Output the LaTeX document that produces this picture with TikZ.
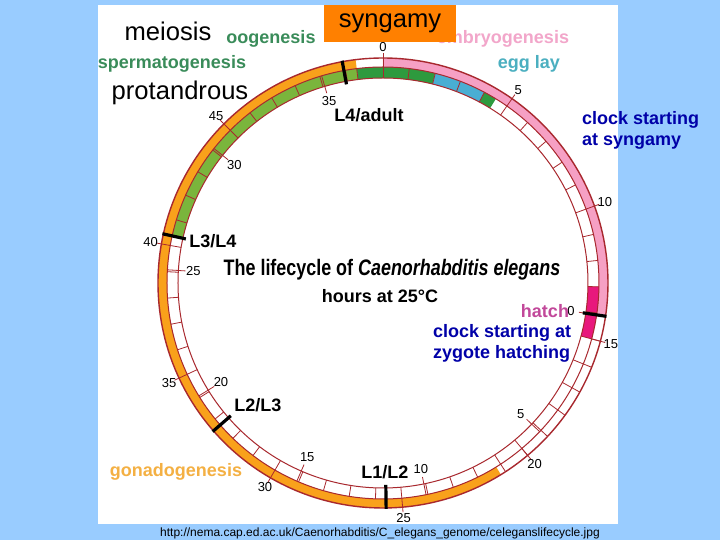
\documentclass[tikz,border=0pt]{standalone}
\usepackage{fontspec}
\setmainfont{Liberation Sans}
\newfontfamily\narrowsans{Liberation Sans}[FakeStretch=0.8]
\usetikzlibrary{calc}
\definecolor{slideblue}{HTML}{99CCFF}
\definecolor{ringred}{HTML}{A8282E}
\definecolor{gonadorange}{HTML}{F9A11B}
\definecolor{embryopink}{HTML}{F6A0C4}
\definecolor{hatchpink}{HTML}{E8187C}
\definecolor{oogreen}{HTML}{2E9A3E}
\definecolor{spermgreen}{HTML}{7AB53C}
\definecolor{eggblue}{HTML}{49AED3}
\definecolor{syngorange}{HTML}{FF8000}
\definecolor{clockblue}{HTML}{0000A8}
\definecolor{labelgreen}{HTML}{3A8C5A}
\definecolor{labelpink}{HTML}{F2A6CA}
\definecolor{labelteal}{HTML}{4BAFC0}
\definecolor{labelmagenta}{HTML}{C2489A}
\definecolor{labelorange}{HTML}{F4B043}

% piece of a ring: colour, inner radius, outer radius, from hour, to hour
\newcommand{\clockband}[5]{%
  \fill[#1] ({90-7*(#4)}:#3) arc[start angle={90-7*(#4)}, end angle={90-7*(#5)}, radius=#3]
    -- ({90-7*(#5)}:#2) arc[start angle={90-7*(#5)}, end angle={90-7*(#4)}, radius=#2] -- cycle;}

\begin{document}
\begin{tikzpicture}[x=0.5pt, y=0.5pt,
    hourtick/.style={ringred, line width=0.4pt},
    stagetick/.style={black, line width=1.6pt},
    clocknum/.style={font=\fontsize{6.5}{7}\selectfont},
    stagename/.style={font=\fontsize{9}{10}\selectfont\bfseries},
    bigword/.style={font=\fontsize{12.8}{14}\selectfont},
    clocknote/.style={clockblue, align=left, font=\fontsize{9}{10.5}\selectfont\bfseries}]
    % Slide background
    \fill[slideblue] (-383, -257) rectangle (337, 283);
    \fill[white] (-285, -241) rectangle (235, 278);

    % Process names along the top
    \node[stagename, labelpink] (embryo) at (120, 244) {embryogenesis};
    \fill[syngorange] (-59, 241) rectangle (73, 278);
    \node[bigword] (syngamy) at (7, 260) {syngamy};
    \node[bigword] (meiosis) at (-215, 252) {meiosis};
    \node[stagename, labelgreen] (oogen) at (-112, 244) {oogenesis};
    \node[stagename, labelgreen] (spermgen) at (-211, 219) {spermatogenesis};
    \node[bigword] (protandrous) at (-203, 190) {protandrous};
    \node[stagename, labelteal] (egglay) at (146, 219) {egg lay};

    % Outer ring (clock from syngamy)
    \clockband{embryopink}{216}{225}{0}{14.07}
    \clockband{gonadorange}{216}{225}{21.2}{50.43}

    % Inner ring (clock from hatching)
    \clockband{spermgreen}{205}{216}{40.37}{50.43}
    \clockband{oogreen}{205}{216}{-1}{2}
    \clockband{eggblue}{205}{216}{2}{4}
    \clockband{oogreen}{205}{216}{4}{4.5}
    \clockband{hatchpink}{205}{216}{13}{15}

    % Hour boxes
    \foreach \h in {-1,...,50}
        \draw[hourtick] ({90-7*\h}:205) -- ({90-7*\h}:216);
    \foreach \h in {15,...,21}
        \draw[hourtick] ({90-7*\h}:216) -- ({90-7*\h}:225);
    \draw[ringred, line width=0.7pt] (0,0) circle (225);
    \draw[ringred, line width=0.5pt] (0,0) circle (216);
    \draw[ringred, line width=0.5pt] (0,0) circle (205);

    % Hours after syngamy
    \foreach \h in {0,5,...,45} {
        \draw[hourtick] ({90-7*\h}:216) -- ({90-7*\h}:230);
        \node[clocknum] (out\h) at ({90-7*\h}:236) {\h};
    }
    % Hours after hatching
    \foreach \h in {0,5,...,35} {
        \draw[hourtick] ({-8.5-7*\h}:216) -- ({-8.5-7*\h}:198);
        \node[clocknum] (in\h) at ({-8.5-7*\h}:190) {\h};
    }

    % Moults
    \foreach \h in {14.07, 25.6, 32.7, 40.37, 49.94}
        \draw[stagetick] ({90-7*\h}:202) -- ({90-7*\h}:226);
    \node[stagename] (l4adult) at (-14, 168) {L4/adult};
    \node[stagename] (l3l4) at (-170, 42) {L3/L4};
    \node[stagename] (l2l3) at (-125, -122) {L2/L3};
    \node[stagename] (l1l2) at (2, -189) {L1/L2};
    \node[stagename, labelmagenta] (hatch) at (162, -28) {hatch};
    \node[stagename, labelorange] (gonado) at (-207, -189) {gonadogenesis};

    % Title
    \node[font=\fontsize{11.2}{12}\narrowsans\bfseries] (title) at (9, 13) {The lifecycle of \textit{Caenorhabditis elegans}};
    \node[stagename] (hours) at (-3, -13) {hours at 25°C};

    % Notes
    \node[clocknote, anchor=west] (syngclock) at (192, 153) {clock starting\\at syngamy};
    \node[clocknote, anchor=west] (hatchclock) at (43, -60) {clock starting at\\zygote hatching};
    \node[font=\fontsize{6}{7}\selectfont] (source) at (-3, -250) {http://nema.cap.ed.ac.uk/Caenorhabditis/C\_elegans\_genome/celeganslifecycle.jpg};
\end{tikzpicture}
\end{document}
